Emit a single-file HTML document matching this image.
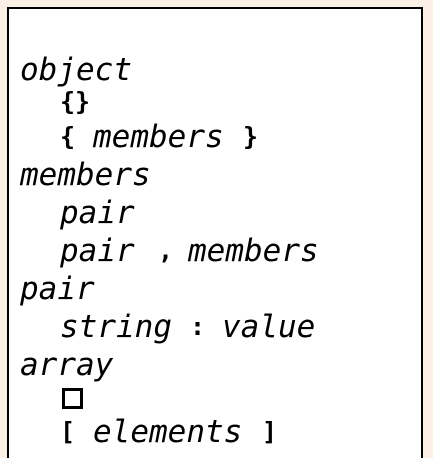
<!DOCTYPE html>
<html><head><meta charset="utf-8"><style>
html,body{margin:0;padding:0;width:433px;height:458px;overflow:hidden;background:#faf0e6;}
.wrap{position:relative;width:433px;height:458px;overflow:hidden;}
.box{position:absolute;left:7px;top:7px;width:412px;height:451px;border:2px solid #000;border-bottom:none;background:#fff;}
.t{position:absolute;font-family:"DejaVu Sans Mono","Liberation Mono",monospace;font-size:31px;line-height:38px;height:38px;color:#000;white-space:pre;}
.i{font-style:italic;}
.b{font-weight:bold;font-size:25px;}
.sq{position:absolute;left:62px;top:388px;width:15px;height:15px;border:3px solid #000;}
</style></head><body>
<div class="wrap">
<div class="box"></div>
<div class="t i" style="left:20px;top:51px">object</div>
<div class="t b" style="left:60px;top:83px">{}</div>
<div class="t b" style="left:60px;top:118px">{</div>
<div class="t i" style="left:93px;top:118px">members</div>
<div class="t b" style="left:243px;top:118px">}</div>
<div class="t i" style="left:20px;top:156px">members</div>
<div class="t i" style="left:60px;top:194px">pair</div>
<div class="t i" style="left:60px;top:232px">pair</div>
<div class="t b" style="left:158px;top:232px">,</div>
<div class="t i" style="left:188px;top:232px">members</div>
<div class="t i" style="left:20px;top:270px">pair</div>
<div class="t i" style="left:60px;top:308px">string</div>
<div class="t b" style="left:190px;top:308px">:</div>
<div class="t i" style="left:222px;top:308px">value</div>
<div class="t i" style="left:20px;top:346px">array</div>
<div class="sq"></div>
<div class="t b" style="left:60px;top:413px">[</div>
<div class="t i" style="left:93px;top:413px">elements</div>
<div class="t b" style="left:262px;top:413px">]</div>
</div>
</body></html>
